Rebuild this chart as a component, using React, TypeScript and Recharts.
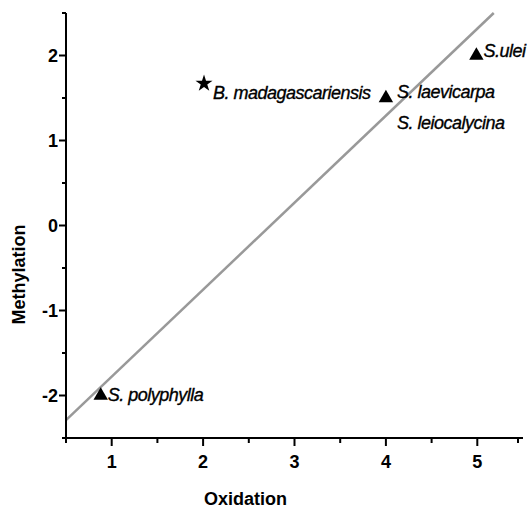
import { ScatterChart, Scatter, XAxis, YAxis, ReferenceLine, Symbols } from 'recharts'

// S. species (triangles)
const sLabels = [['S. polyphylla'], ['S. laevicarpa', 'S. leiocalycina'], ['S.ulei']]
const sOxidation = [0.88, 4.0, 4.99]
const sMethylation = [-2.0, 1.5, 2.0]

// B. madagascariensis (star)
const bLabels = [['B. madagascariensis']]
const bOxidation = [2.01]
const bMethylation = [1.67]

// regression line end points
const fitX = [0.5, 5.18]
const fitY = [-2.29, 2.5]

const xTicks = [0.5, 1, 1.5, 2, 2.5, 3, 3.5, 4, 4.5, 5, 5.5]
const yTicks = [-2.5, -2, -1.5, -1, -0.5, 0, 0.5, 1, 1.5, 2, 2.5]

const sData = sOxidation.map((x, i) => ({ x, y: sMethylation[i], names: sLabels[i] }))
const bData = bOxidation.map((x, i) => ({ x, y: bMethylation[i], names: bLabels[i] }))
const fitSegment = fitX.map((x, i) => ({ x, y: fitY[i] }))

const font = '"Liberation Sans", Arial, sans-serif'

// where each name sits relative to its marker
const labelOffset: Record<string, { dx: number; dy: number }> = {
  'S. polyphylla': { dx: 7, dy: 5 },
  'S. laevicarpa': { dx: 11, dy: 0 },
  'S.ulei': { dx: 7, dy: 1 },
  'B. madagascariensis': { dx: 9, dy: 15 },
}

const makeShape = (type: 'triangle' | 'star', size: number) => (props: any) => {
  const { cx, cy, payload } = props
  const names: string[] = payload.names
  const off = labelOffset[names[0]] || { dx: 8, dy: 5 }
  return (
    <g>
      <Symbols cx={cx} cy={cy} type={type} size={size} fill="#000" />
      {names.map((n, i) => (
        <text
          key={n}
          x={cx + off.dx}
          y={cy + off.dy + i * 31}
          fontFamily={font}
          fontStyle="italic"
          fontSize={18}
          letterSpacing={-0.5}
          fill="#000"
          stroke="#000"
          strokeWidth={0.35}
        >
          {n}
        </text>
      ))}
    </g>
  )
}

const XTick = (props: any) => {
  const { x, y, payload } = props
  const major = Number.isInteger(payload.value)
  return (
    <g>
      <line x1={x} x2={x} y1={y} y2={y + (major ? 8 : 5)} stroke="#000" strokeWidth={2} />
      {major && (
        <text x={x} y={y + 30} textAnchor="middle" fontFamily={font} fontWeight="bold" fontSize={18} fill="#000">
          {payload.value}
        </text>
      )}
    </g>
  )
}

const YTick = (props: any) => {
  const { x, y, payload } = props
  const major = Number.isInteger(payload.value)
  return (
    <g>
      <line x1={x} x2={x - (major ? 7 : 4)} y1={y} y2={y} stroke="#000" strokeWidth={2} />
      {major && (
        <text x={x - 8} y={y + 6.5} textAnchor="end" fontFamily={font} fontWeight="bold" fontSize={18} fill="#000">
          {payload.value}
        </text>
      )}
    </g>
  )
}

const XTitle = (props: any) => {
  const vb = props.viewBox || { x: 66, y: 438, width: 457, height: 70 }
  return (
    <text x={vb.x + vb.width / 2 - 49} y={vb.y + 67} textAnchor="middle" fontFamily={font} fontWeight="bold" fontSize={18} fill="#000">
      Oxidation
    </text>
  )
}

const YTitle = (props: any) => {
  const vb = props.viewBox || { x: 0, y: 13, width: 66, height: 425 }
  const cx = vb.x + 25
  const cy = vb.y + vb.height / 2 + 49
  return (
    <text x={cx} y={cy} transform={`rotate(-90, ${cx}, ${cy})`} textAnchor="middle" fontFamily={font} fontWeight="bold" fontSize={18} fill="#000">
      Methylation
    </text>
  )
}

export default function App() {
  return (
    <div style={{ position: 'absolute', left: 0, top: 0, background: '#fff' }}>
      <ScatterChart width={528} height={508} margin={{ top: 13, right: 5, bottom: 0, left: 0 }}>
        <XAxis
          type="number"
          dataKey="x"
          domain={[0.5, 5.5]}
          ticks={xTicks}
          height={70}
          tickSize={0}
          tickMargin={0}
          tickLine={false}
          tick={XTick}
          axisLine={{ stroke: '#000', strokeWidth: 2 }}
          label={{ content: XTitle }}
        />
        <YAxis
          type="number"
          dataKey="y"
          domain={[-2.5, 2.5]}
          ticks={yTicks}
          width={66}
          tickSize={0}
          tickMargin={0}
          tickLine={false}
          tick={YTick}
          axisLine={{ stroke: '#000', strokeWidth: 2 }}
          label={{ content: YTitle }}
        />
        <ReferenceLine segment={fitSegment} stroke="#999" strokeWidth={2.5} ifOverflow="visible" />
        <Scatter data={sData} shape={makeShape('triangle', 90)} isAnimationActive={false} />
        <Scatter data={bData} shape={makeShape('star', 90)} isAnimationActive={false} />
      </ScatterChart>
    </div>
  )
}
